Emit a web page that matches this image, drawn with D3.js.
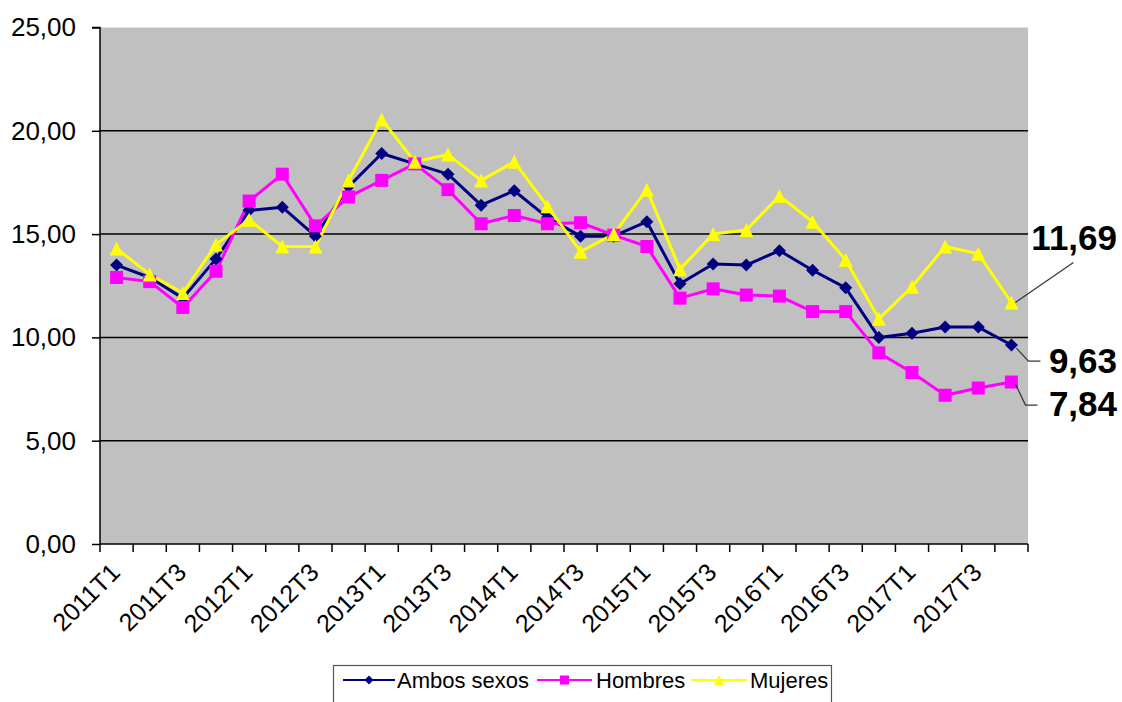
<!DOCTYPE html>
<html><head><meta charset="utf-8">
<script src="https://cdn.jsdelivr.net/npm/d3@7"></script>
<style>
html,body{margin:0;padding:0;background:#fff;}
svg{display:block;font-family:"Liberation Sans",Arial,sans-serif;}
</style></head>
<body>
<svg id="chart" width="1122" height="702"></svg>
<script>
const categories = ["2011T1","2011T2","2011T3","2011T4","2012T1","2012T2","2012T3","2012T4",
  "2013T1","2013T2","2013T3","2013T4","2014T1","2014T2","2014T3","2014T4",
  "2015T1","2015T2","2015T3","2015T4","2016T1","2016T2","2016T3","2016T4",
  "2017T1","2017T2","2017T3","2017T4"];
const ambos = [13.5,12.9,11.9,13.8,16.15,16.3,14.9,17.3,18.9,18.4,17.9,16.4,17.1,15.8,14.9,14.9,
  15.6,12.6,13.55,13.5,14.2,13.25,12.4,10.0,10.2,10.5,10.5,9.63];
const hombres = [12.9,12.7,11.45,13.2,16.6,17.9,15.4,16.8,17.6,18.4,17.15,15.5,15.9,15.5,15.55,14.95,
  14.4,11.9,12.35,12.05,12.0,11.25,11.25,9.25,8.3,7.2,7.55,7.84];
const mujeres = [14.3,13.05,12.15,14.5,15.7,14.4,14.4,17.6,20.55,18.5,18.85,17.6,18.5,16.35,14.15,15.0,
  17.15,13.3,15.0,15.2,16.85,15.6,13.75,10.9,12.45,14.4,14.05,11.69];
const seriesNames = ["Ambos sexos","Hombres","Mujeres"];
const yTicks = [0,5,10,15,20,25];
const xTickLabels = categories.filter((d,i)=>i%2===0);
const lastLabels = ["9,63","7,84","11,69"];

const svg = d3.select("#chart");
const L=100, R=1028, T=27.5, B=544;
const x = d3.scalePoint().domain(categories).range([L,R]).padding(0.5);
const y = d3.scaleLinear().domain([0,25]).range([B,T]);
const step = x.step();

// plot background
svg.append("rect").attr("x",L).attr("y",T).attr("width",R-L).attr("height",B-T).attr("fill","#c0c0c0");

// gridlines
svg.append("g").selectAll("line").data(yTicks.filter(d=>d>0 && d<25)).join("line")
  .attr("x1",L).attr("x2",R).attr("y1",d=>y(d)).attr("y2",d=>y(d))
  .attr("stroke","#000").attr("stroke-width",1.5);

// y axis
const yAxis = d3.axisLeft(y).tickValues(yTicks).tickSize(8).tickPadding(16)
  .tickFormat(d=>d3.format(".2f")(d).replace(".",","));
const gy = svg.append("g").attr("transform",`translate(${L},0)`).call(yAxis);
gy.select(".domain").attr("stroke","#000").attr("stroke-width",1.5).attr("d",`M-8,${T}H0V${B}`);
gy.selectAll(".tick line").attr("stroke","#000").attr("stroke-width",1.5);
gy.selectAll(".tick text").attr("font-size",26).attr("fill","#000")
  .attr("font-family","'Liberation Sans',Arial,sans-serif");

// x axis line and ticks at category boundaries
svg.append("line").attr("x1",L).attr("x2",R).attr("y1",B).attr("y2",B).attr("stroke","#000").attr("stroke-width",1.5);
const boundaries = d3.range(categories.length+1).map(i=>L + i*step);
svg.append("g").selectAll("line").data(boundaries).join("line")
  .attr("x1",d=>d).attr("x2",d=>d).attr("y1",B).attr("y2",B+8)
  .attr("stroke","#000").attr("stroke-width",1.5);
svg.append("g").selectAll("text").data(xTickLabels).join("text")
  .attr("transform",d=>`translate(${x(d)+5},${B+30}) rotate(-45)`)
  .attr("text-anchor","end").attr("font-size",25).attr("fill","#000").text(d=>d);

// symbol paths
function diamond(s){return `M0,${-s}L${s},0L0,${s}L${-s},0Z`;}
function square(s){return `M${-s},${-s}H${s}V${s}H${-s}Z`;}
function triangle(s){return `M0,${-s}L${s},${s}L${-s},${s}Z`;}

const series = [
  {name:seriesNames[0], values:ambos, color:"#000080", sym:diamond, size:6.5},
  {name:seriesNames[1], values:hombres, color:"#ff00ff", sym:square, size:6.5},
  {name:seriesNames[2], values:mujeres, color:"#ffff00", sym:triangle, size:7}
];
const line = d3.line().x((d,i)=>x(categories[i])).y(d=>y(d));
series.forEach(s=>{
  svg.append("path").datum(s.values).attr("d",line).attr("fill","none")
    .attr("stroke",s.color).attr("stroke-width",3).attr("stroke-linejoin","round");
});
series.forEach(s=>{
  svg.append("g").selectAll("path").data(s.values).join("path")
    .attr("transform",(d,i)=>`translate(${x(categories[i])},${y(d)})`)
    .attr("d",s.sym(s.size)).attr("fill",s.color);
});

// end annotations
const lastCat = categories[categories.length-1];
const lx = x(lastCat);
const ann = [
  {v:mujeres[27], text:lastLabels[2], pts:[[4,0],[62,-40]], ty:-52},
  {v:ambos[27], text:lastLabels[0], pts:[[5,3],[17,16],[29,16]], ty:28},
  {v:hombres[27], text:lastLabels[1], pts:[[4,2],[14,23],[26,23]], ty:34}
];
ann.forEach(a=>{
  const py = y(a.v);
  svg.append("path").attr("d","M"+a.pts.map(p=>[lx+p[0],py+p[1]].join(",")).join("L"))
    .attr("fill","none").attr("stroke","#333").attr("stroke-width",1.2);
  svg.append("text").attr("x",1117).attr("y",py+a.ty).attr("text-anchor","end")
    .attr("font-size",35).attr("font-weight","bold").attr("fill","#000").text(a.text);
});

// legend
const lg = svg.append("g");
lg.append("rect").attr("x",333.5).attr("y",665.5).attr("width",498).attr("height",50)
  .attr("fill","#fff").attr("stroke","#555").attr("stroke-width",1.2);
const legendItems = [
  {s:series[0], x1:343, x2:395, tx:397, ms:4.5},
  {s:series[1], x1:537, x2:592, tx:596, ms:4.5},
  {s:series[2], x1:691, x2:747, tx:750, ms:5}
];
legendItems.forEach(it=>{
  lg.append("line").attr("x1",it.x1).attr("x2",it.x2).attr("y1",680).attr("y2",680)
    .attr("stroke",it.s.color).attr("stroke-width",2);
  lg.append("path").attr("transform",`translate(${(it.x1+it.x2)/2},680)`).attr("d",it.s.sym(it.ms)).attr("fill",it.s.color);
  lg.append("text").attr("x",it.tx).attr("y",687.5).attr("font-size",22).attr("fill","#000").text(it.s.name);
});
</script>
</body></html>
